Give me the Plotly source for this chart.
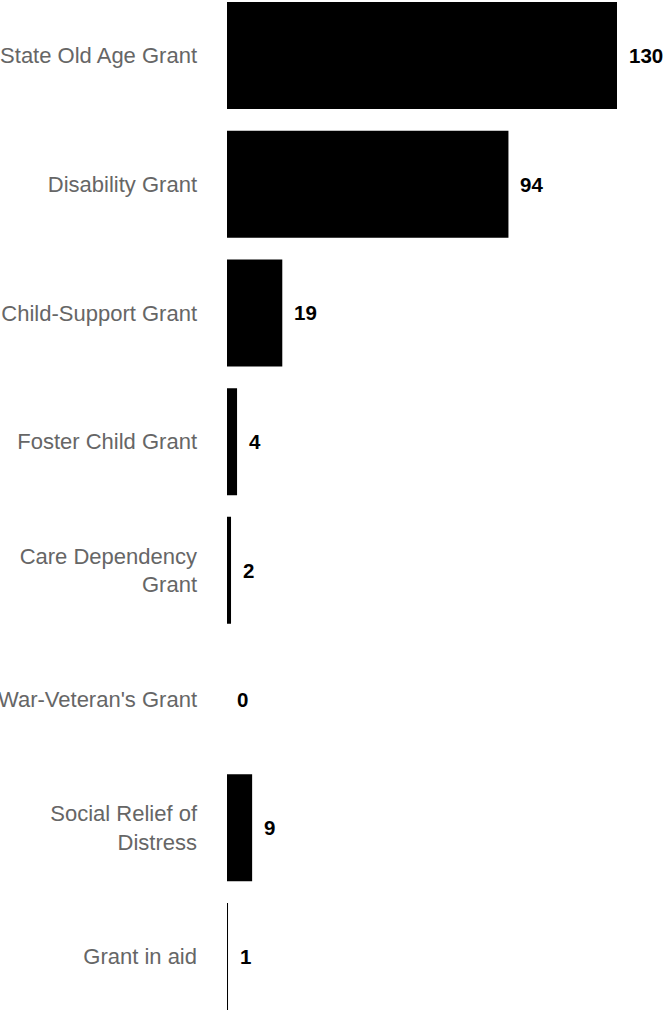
import plotly.graph_objects as go

categories = [
    "State Old Age Grant",
    "Disability Grant",
    "Child-Support Grant",
    "Foster Child Grant",
    "Care Dependency<br>Grant",
    "War-Veteran's Grant",
    "Social Relief of<br>Distress",
    "Grant in aid",
]
values = [130, 94, 19, 4, 2, 0, 9, 1]
value_labels = [str(v) for v in values]

FONT = "Liberation Sans, Arial, Helvetica, sans-serif"

fig = go.Figure()
fig.add_trace(go.Bar(
    x=values,
    y=categories,
    orientation="h",
    marker=dict(color="#000000", line=dict(color="#ffffff", width=2)),
    hoverinfo="skip",
))

for v, c, t in zip(values, categories, value_labels):
    fig.add_annotation(
        x=v, y=c, text=f"<b>{t}</b>", showarrow=False,
        xanchor="left", yanchor="middle", xshift=9,
        font=dict(family=FONT, size=20.5, color="#000000"),
    )

n = len(categories)
fig.update_layout(
    width=671, height=1012,
    margin=dict(l=226, r=53, t=0, b=0, autoexpand=False),
    paper_bgcolor="white", plot_bgcolor="white",
    bargap=0.153,
    showlegend=False,
    font=dict(family=FONT),
)
fig.update_xaxes(
    range=[0, 130], visible=False, showgrid=False, zeroline=False,
)
fig.update_yaxes(
    type="category",
    categoryorder="array", categoryarray=categories,
    range=[n - 1 + 0.431, -0.431],
    showgrid=False, zeroline=False, showline=False, ticks="",
    automargin=False,
    ticklabelstandoff=28,
    tickfont=dict(family=FONT, size=22, color="#666666"),
)

fig.write_html(
    "out.html",
    config={"displayModeBar": False},
    post_script="document.body.style.margin='0';document.body.style.overflow='hidden';",
)
